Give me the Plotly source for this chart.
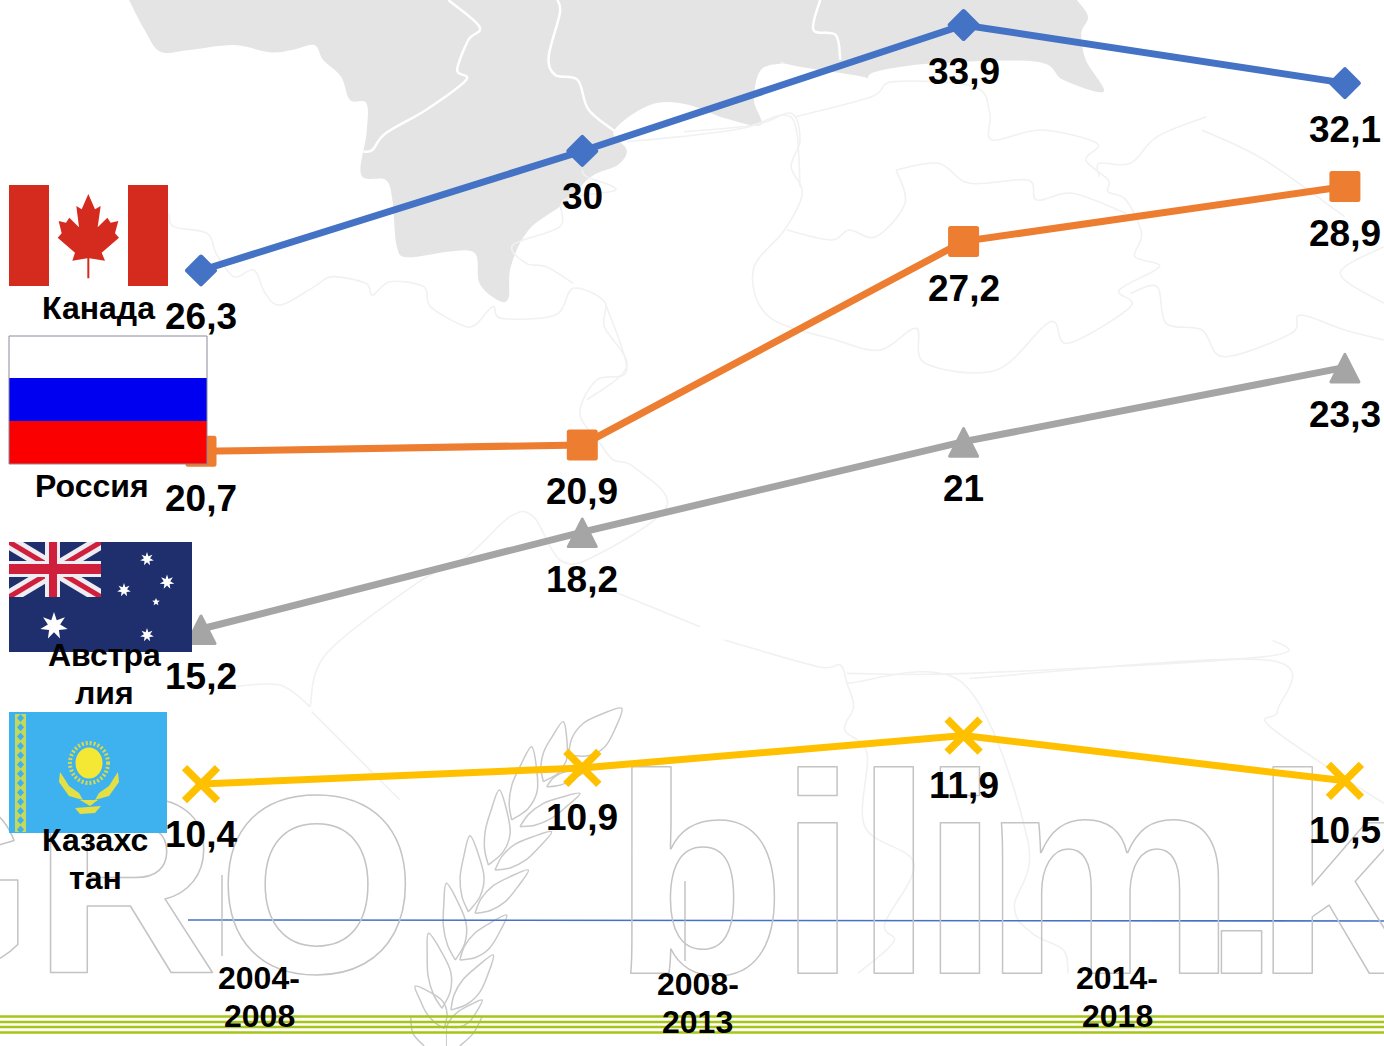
import math
import plotly.graph_objects as go

W, H = 1384, 1046
FONT = "Liberation Sans"

periods = ["2004-2008", "2008-2013", "2013-2014", "2014-2018"]
canada = [26.3, 30, 33.9, 32.1]
russia = [20.7, 20.9, 27.2, 28.9]
australia = [15.2, 18.2, 21, 23.3]
kazakhstan = [10.4, 10.9, 11.9, 10.5]

series_names = ["Канада", "Россия", "Австралия", "Казахстан"]
series_values = [canada, russia, australia, kazakhstan]
series_colors = ["#4472C4", "#ED7D31", "#A5A5A5", "#FFC000"]
series_symbols = ["diamond", "square", "triangle-up", "x-thin"]
series_sizes = [21.5, 26, 24, 33]
series_marker_lines = [4, 5, 3, 7.5]
label_shifts = [-46, -47, -47, -50]

value_labels = [
    ["26,3", "30", "33,9", "32,1"],
    ["20,7", "20,9", "27,2", "28,9"],
    ["15,2", "18,2", "21", "23,3"],
    ["10,4", "10,9", "11,9", "10,5"],
]
axis_labels = [("2004-", 259, 978), ("2008", 259, 1016), ("2008-", 698, 984), ("2013", 697, 1022),
               ("2014-", 1117, 978), ("2018", 1117, 1016)]
flag_labels = [("Канада", 98, 308), ("Россия", 92, 486), ("Австра", 104, 655), ("лия", 104, 693),
               ("Казахс", 95, 840), ("тан", 95, 878)]
watermark = ["AGRO", "bilim.kz"]

# scale of the plot: one period = 381.3 px, one unit = 32.3 px
PX_PER_UNIT = 32.3
Y_ZERO_PX = 25 + 33.9 * PX_PER_UNIT
X_RANGE = [-201 / 381.3, (W - 201) / 381.3]
Y_RANGE = [(Y_ZERO_PX - H) / PX_PER_UNIT, Y_ZERO_PX / PX_PER_UNIT]


def px(x):
    return x / W


def py(y):
    return 1 - y / H


shapes = []


def poly(pts, fill=None, line=None, width=1, layer="below", closed=True, smooth=False):
    pts = list(pts)
    if smooth and len(pts) > 2:
        d = f"M{px(pts[0][0])},{py(pts[0][1])}"
        for i in range(len(pts) - 1):
            p0 = pts[max(i - 1, 0)]
            p1 = pts[i]
            p2 = pts[i + 1]
            p3 = pts[min(i + 2, len(pts) - 1)]
            c1 = (p1[0] + (p2[0] - p0[0]) / 6, p1[1] + (p2[1] - p0[1]) / 6)
            c2 = (p2[0] - (p3[0] - p1[0]) / 6, p2[1] - (p3[1] - p1[1]) / 6)
            d += f" C{px(c1[0])},{py(c1[1])} {px(c2[0])},{py(c2[1])} {px(p2[0])},{py(p2[1])}"
    else:
        d = "M" + " L".join(f"{px(a)},{py(b)}" for a, b in pts)
    if closed:
        d += " Z"
    s = dict(type="path", xref="paper", yref="paper", path=d, layer=layer)
    s["fillcolor"] = fill if fill else "rgba(0,0,0,0)"
    s["line"] = dict(color=line, width=width) if line else dict(width=0)
    shapes.append(s)


def rect(x0, y0, x1, y1, fill, line=None, layer="above"):
    poly([(x0, y0), (x1, y0), (x1, y1), (x0, y1)], fill=fill, line=line, layer=layer)


def star(cx, cy, r, n=7, inner=0.45, fill="#FFFFFF"):
    pts = []
    for i in range(2 * n):
        a = -math.pi / 2 + i * math.pi / n
        rr = r if i % 2 == 0 else r * inner
        pts.append((cx + rr * math.cos(a), cy + rr * math.sin(a)))
    poly(pts, fill=fill, layer="above")


def ellipse(cx, cy, rx, ry, fill=None, line=None, width=1, dash=None, layer="above"):
    ln = dict(color=line, width=width) if line else dict(width=0)
    if dash:
        ln["dash"] = dash
    shapes.append(dict(type="circle", xref="paper", yref="paper", layer=layer,
                       x0=px(cx - rx), x1=px(cx + rx), y0=py(cy - ry), y1=py(cy + ry),
                       fillcolor=fill if fill else "rgba(0,0,0,0)", line=ln))


# ---------- background map ----------
def z5(p):
    return (100 + p[0] / 2.24, p[1] / 3)


def z6(p):
    return (684 + p[0] / 2.24, p[1] / 3)


def z4(p):
    return (684 + p[0] / 2.24, 640 + p[1] / 3)


def z8(p):
    return (200 + p[0] / 3, 300 + p[1] / 3)


blob = [z5(p) for p in [(65, 0), (100, 90), (135, 155), (200, 150), (300, 135), (380, 157), (430, 150), (480, 135),
                        (500, 180), (540, 230), (560, 300), (597, 310), (597, 400), (585, 525), (640, 540),
                        (655, 600), (665, 740), (690, 772), (780, 755), (840, 760), (850, 850), (890, 900),
                        (915, 895), (920, 800), (960, 690), (1040, 610), (1100, 530), (1160, 495), (1180, 450),
                        (1150, 400), (1190, 345), (1250, 308), (1320, 315), (1400, 355), (1480, 375), (1465, 300),
                        (1480, 210), (1530, 190)]]
blob += [z6(p) for p in [(220, 190), (280, 205), (400, 230), (410, 240), (430, 215), (560, 190), (790, 185),
                         (850, 240), (940, 275), (900, 180), (890, 100), (905, 50), (880, 0)]]
poly(blob, fill="#E4E4E4", smooth=True)
for conv, pts in [
    (z5, [(780, 0), (850, 80), (825, 120), (800, 210), (820, 240), (730, 330), (640, 400), (610, 450), (590, 455)]),
    (z5, [(1025, 0), (1030, 40), (1005, 170), (1020, 225), (1070, 240), (1095, 330), (1160, 400)]),
    (z6, [(305, 0), (290, 90), (340, 105), (350, 180)]),
]:
    poly([conv(p) for p in pts], line="#FFFFFF", width=2.5, closed=False, smooth=True)

light = [
    (z5, [(155, 640), (165, 680), (240, 700), (260, 760), (300, 830), (345, 810), (370, 880), (405, 915), (480, 860),
          (520, 830), (595, 850), (610, 885), (650, 845), (725, 860), (740, 920), (810, 975), (840, 975), (880, 920),
          (900, 955), (1020, 945), (1060, 865), (1130, 905), (1130, 980), (1180, 1100), (1090, 1200)]),
    (z5, [(1080, 510), (1090, 530), (1155, 570), (1040, 600), (1030, 680), (925, 735), (955, 790), (1000, 800), (1060, 850)]),
    (z5, [(1180, 425), (1300, 410), (1440, 385), (1530, 345), (1560, 390), (1568, 560)]),
    (z6, [(0, 395), (160, 375), (240, 340), (260, 420), (240, 500), (265, 580), (225, 690), (155, 810), (190, 950),
          (340, 1020), (440, 1050), (520, 985), (540, 1090), (700, 1110), (820, 965), (860, 1030), (1000, 920),
          (975, 870), (1065, 800), (1010, 770), (1025, 700), (990, 600), (950, 575), (950, 540), (900, 480), (925, 430),
          (800, 390), (690, 420), (685, 340), (650, 260), (470, 245), (420, 290), (250, 350)]),
    (z6, [(475, 510), (570, 490), (640, 550), (770, 540), (790, 600), (870, 580), (990, 640)]),
    (z6, [(475, 510), (495, 610), (430, 710), (370, 690), (330, 720), (230, 690)]),
    (z6, [(1170, 350), (1060, 410), (1000, 490), (930, 490), (930, 530)]),
    (z6, [(1160, 390), (1300, 480), (1480, 650)]),
    (z6, [(1000, 880), (1060, 860), (1080, 970), (1160, 990), (1210, 1070), (1360, 1000), (1380, 945), (1480, 990),
          (1568, 1020)]),
    (z6, [(1568, 740), (1470, 820), (1568, 910)]),
    (z4, [(90, 0), (300, 80), (350, 75), (365, 130), (380, 200), (360, 270), (410, 340), (405, 560), (515, 670),
          (450, 850), (470, 905), (390, 1000)]),
    (z4, [(365, 100), (640, 100), (1300, 50), (1320, 0)]),
    (z4, [(365, 130), (625, 130), (770, 600), (740, 800), (780, 880), (850, 930), (860, 1000)]),
    (z4, [(640, 115), (1305, 60), (1330, 210), (1305, 250), (1440, 380), (1568, 490)]),
    (z8, [(1220, 20), (1280, 210), (1190, 240), (1140, 340), (1200, 430), (1240, 480), (1300, 500), (1400, 620),
          (1180, 770), (1080, 780), (1000, 650), (930, 650), (800, 770), (650, 850), (380, 1060), (330, 1220)]),
    (z8, [(330, 1220), (240, 1155), (100, 1160)]),
    (z8, [(335, 1235), (600, 1500)]),
    (z8, [(1230, 870), (1500, 980)]),
]
for conv, pts in light:
    poly([conv(p) for p in pts], line="#F1F1F1", width=1.6, closed=False, smooth=True)


# ---------- wheat ear ----------
def leaf(base, tip, b1, b2):
    bx, by = base
    tx, ty = tip
    dx, dy = tx - bx, ty - by
    L = math.hypot(dx, dy)
    nx, ny = -dy / L, dx / L
    pts = [base]
    for t, w in [(0.2, 0.75), (0.45, 1.0), (0.72, 0.65)]:
        pts.append((bx + dx * t + nx * b1 * w, by + dy * t + ny * b1 * w))
    pts.append(tip)
    for t, w in [(0.72, 0.65), (0.45, 1.0), (0.2, 0.75)]:
        pts.append((bx + dx * t - nx * b2 * w, by + dy * t - ny * b2 * w))
    pts.append(base)
    poly(pts, line="#C9C9C9", width=1.5, closed=False, smooth=True)


def z7(x, y):
    return (400 + x / 3, 690 + y / 3)


def z3(x, y):
    return (x / 2.24, 860 + y / 3)


leaf(z7(505, 195), z7(665, 55), 18, 14)
leaf(z7(430, 275), z7(490, 95), 15, 9)
leaf(z7(335, 390), z7(395, 170), 17, 9)
leaf(z7(265, 525), z7(298, 300), 17, 8)
leaf(z7(205, 665), z7(210, 437), 15, 9)
leaf(z3(1020, 300), z3(1000, 70), 15, 8)
leaf(z7(440, 290), z7(560, 240), 4, 7)
leaf(z7(360, 410), z7(540, 310), 8, 9)
leaf(z7(285, 540), z7(455, 425), 9, 10)
leaf(z7(225, 670), z7(385, 540), 10, 10)
leaf(z3(1030, 300), z3(1135, 165), 12, 9)
leaf(z3(990, 445), z3(960, 220), 15, 8)
leaf(z3(995, 505), z3(930, 378), 14, 6)
leaf(z3(1010, 450), z3(1105, 285), 12, 9)
leaf(z3(1000, 500), z3(1080, 420), 10, 5)
poly([z3(920, 470), z3(925, 520), z3(950, 558)], line="#C9C9C9", width=1.5, closed=False, smooth=True)
poly([z3(1080, 470), z3(1060, 520), z3(1030, 558)], line="#C9C9C9", width=1.5, closed=False, smooth=True)
poly([z3(1000, 500), z3(1000, 558)], line="#C9C9C9", width=1, closed=False)

# ---------- axis decoration ----------
poly([(188, 920), (W, 921)], line="#4472C4", width=1.6, closed=False)
poly([(222, 875), (222, 956)], line="#B5B5B5", width=1.2, closed=False)
poly([(685, 881), (685, 961)], line="#B5B5B5", width=1.2, closed=False)
for y in [1016.5, 1022, 1027, 1032.5]:
    poly([(0, y), (W, y)], line="#A6C516", width=2.4, closed=False)

# ---------- flags ----------
# Canada
rect(49, 185, 128, 286, "#FFFFFF")
rect(9, 185, 49, 286, "#D52B1E")
rect(128, 185, 168, 286, "#D52B1E")
maple = [(265, 72), (285, 118), (302, 108), (293, 172), (322, 143), (332, 158), (355, 153), (345, 190), (357, 203),
         (305, 248), (315, 272), (268, 265), (268, 325), (262, 325), (262, 265), (217, 272), (225, 248), (173, 203),
         (185, 190), (176, 153), (198, 158), (208, 143), (237, 172), (229, 108), (245, 118)]
poly([(x / 3, 170 + y / 3) for x, y in maple], fill="#D52B1E", layer="above")
# Russia
rect(9, 336, 207, 378, "#FFFFFF")
rect(9, 378, 207, 421, "#0000F0")
rect(9, 421, 207, 464, "#FB0000")
poly([(9, 336), (207, 336), (207, 464), (9, 464)], line="#8A8AA0", width=1, layer="above")
# Australia
rect(9, 542, 192, 652, "#1F2F6E")
jx0, jy0, jx1, jy1 = 9, 542, 101, 597


def band(d, color, flip=False):
    a = d * (jy1 - jy0) / (jx1 - jx0)
    if not flip:
        pts = [(jx0, jy0), (jx0 + d, jy0), (jx1, jy1 - a), (jx1, jy1), (jx1 - d, jy1), (jx0, jy0 + a)]
    else:
        pts = [(jx1, jy0), (jx1 - d, jy0), (jx0, jy1 - a), (jx0, jy1), (jx0 + d, jy1), (jx1, jy0 + a)]
    poly(pts, fill=color, layer="above")


for flip in (False, True):
    band(14, "#EDEDF2", flip)
    band(5, "#D01F3C", flip)
rect(45, 542, 60, 597, "#EDEDF2")
rect(9, 561, 101, 577, "#EDEDF2")
rect(49, 542, 57, 597, "#D01F3C")
rect(9, 564, 101, 574, "#D01F3C")
star(54, 626, 14)
star(147, 559, 7)
star(167, 582, 7.5)
star(124, 590, 7)
star(156, 602, 4, 5)
star(147, 635, 7)
# Kazakhstan
rect(9, 712, 167, 833, "#3DB2EE")
rect(15, 714, 26, 832, "#C5D85A")
for i in range(13):
    yc = 718 + i * 9.3
    poly([(20.5, yc - 4), (24, yc), (20.5, yc + 4), (17, yc)], fill="#3DB2EE", layer="above")
ellipse(89, 763, 19, 20, line="#D8D84C", width=4, dash="2px,2px")
ellipse(89, 763, 13.5, 15.5, fill="#F5E835")
for sgn in (-1, 1):
    poly([(89 + sgn * 29, 772), (89 + sgn * 30, 782), (89 + sgn * 20, 796), (89 + sgn * 6, 800),
          (89 + sgn * 10, 793), (89 + sgn * 20, 786), (89 + sgn * 25, 778)], fill="#E4DF45", layer="above")
poly([(75, 808), (101, 806), (95, 813), (80, 814)], fill="#E4DF45", layer="above")
poly([(80, 800), (98, 800), (90, 806)], fill="#E4DF45", layer="above")

# ---------- figure ----------
fig = go.Figure()
fig.add_trace(go.Scatter(
    x=[(416 - 201) / 381.3, (612 - 201) / 381.3],
    y=[(Y_ZERO_PX - 909) / PX_PER_UNIT, (Y_ZERO_PX - 902) / PX_PER_UNIT],
    mode="text", text=watermark, textposition=["middle left", "middle right"],
    textfont=dict(family=FONT, size=[255, 285], color="#C4C4C4", weight="bold"),
    hoverinfo="skip", showlegend=False, cliponaxis=True,
))
for k, (name, vals, color, sym, size) in enumerate(zip(series_names, series_values, series_colors, series_symbols, series_sizes)):
    fig.add_trace(go.Scatter(
        x=list(range(len(periods))), y=vals, mode="lines+markers", name=name,
        line=dict(color=color, width=7),
        marker=dict(symbol=sym, size=size, color=color, line=dict(color=color, width=series_marker_lines[k])),
        showlegend=False, hovertemplate=name + ": %{text}<extra></extra>",
        text=value_labels[k],
    ))

annotations = []
for labels, vals, shift in zip(value_labels, series_values, label_shifts):
    for i, (t, v) in enumerate(zip(labels, vals)):
        annotations.append(dict(x=i, y=v, xref="x", yref="y", text=f"<b>{t}</b>", showarrow=False,
                                xanchor="center", yanchor="middle", yshift=shift,
                                font=dict(family=FONT, size=37, color="#000000")))
for t, x, y in axis_labels + flag_labels:
    annotations.append(dict(x=px(x), y=py(y), xref="paper", yref="paper", text=f"<b>{t}</b>",
                            showarrow=False, align="center", xanchor="center", yanchor="middle",
                            font=dict(family=FONT, size=32, color="#000000")))

fig.update_layout(
    width=W, height=H, margin=dict(l=0, r=0, t=0, b=0), autosize=False,
    paper_bgcolor="#FFFFFF", plot_bgcolor="rgba(0,0,0,0)", showlegend=False,
    xaxis=dict(range=X_RANGE, visible=False, fixedrange=True),
    yaxis=dict(range=Y_RANGE, visible=False, fixedrange=True),
    shapes=shapes, annotations=annotations,
)

post = """
document.body.style.margin = '0';
document.querySelectorAll('.textpoint text').forEach(function (t) {
  t.style.setProperty('fill', 'none');
  t.style.setProperty('stroke', '#C4C4C4');
  t.style.setProperty('stroke-width', '1.5px');
  t.style.setProperty('stroke-linejoin', 'round');
  if (t.textContent.indexOf('bilim') === 0) {
    t.style.letterSpacing = '-16px';
    t.setAttribute('dx', '0 8 13 3 -1 -18 -12 0');
  }
});
var traces = document.querySelectorAll('.scatterlayer .trace');
traces.forEach(function (tr, i) {
  tr.querySelectorAll('.points path').forEach(function (p) {
    p.style.setProperty('stroke-linejoin', 'round');
    if (i === 3) { p.setAttribute('d', 'M-14,14.5L14,14.5L0,-13Z'); }
  });
});
"""
fig.write_html("out.html", post_script=post, config=dict(displayModeBar=False))
